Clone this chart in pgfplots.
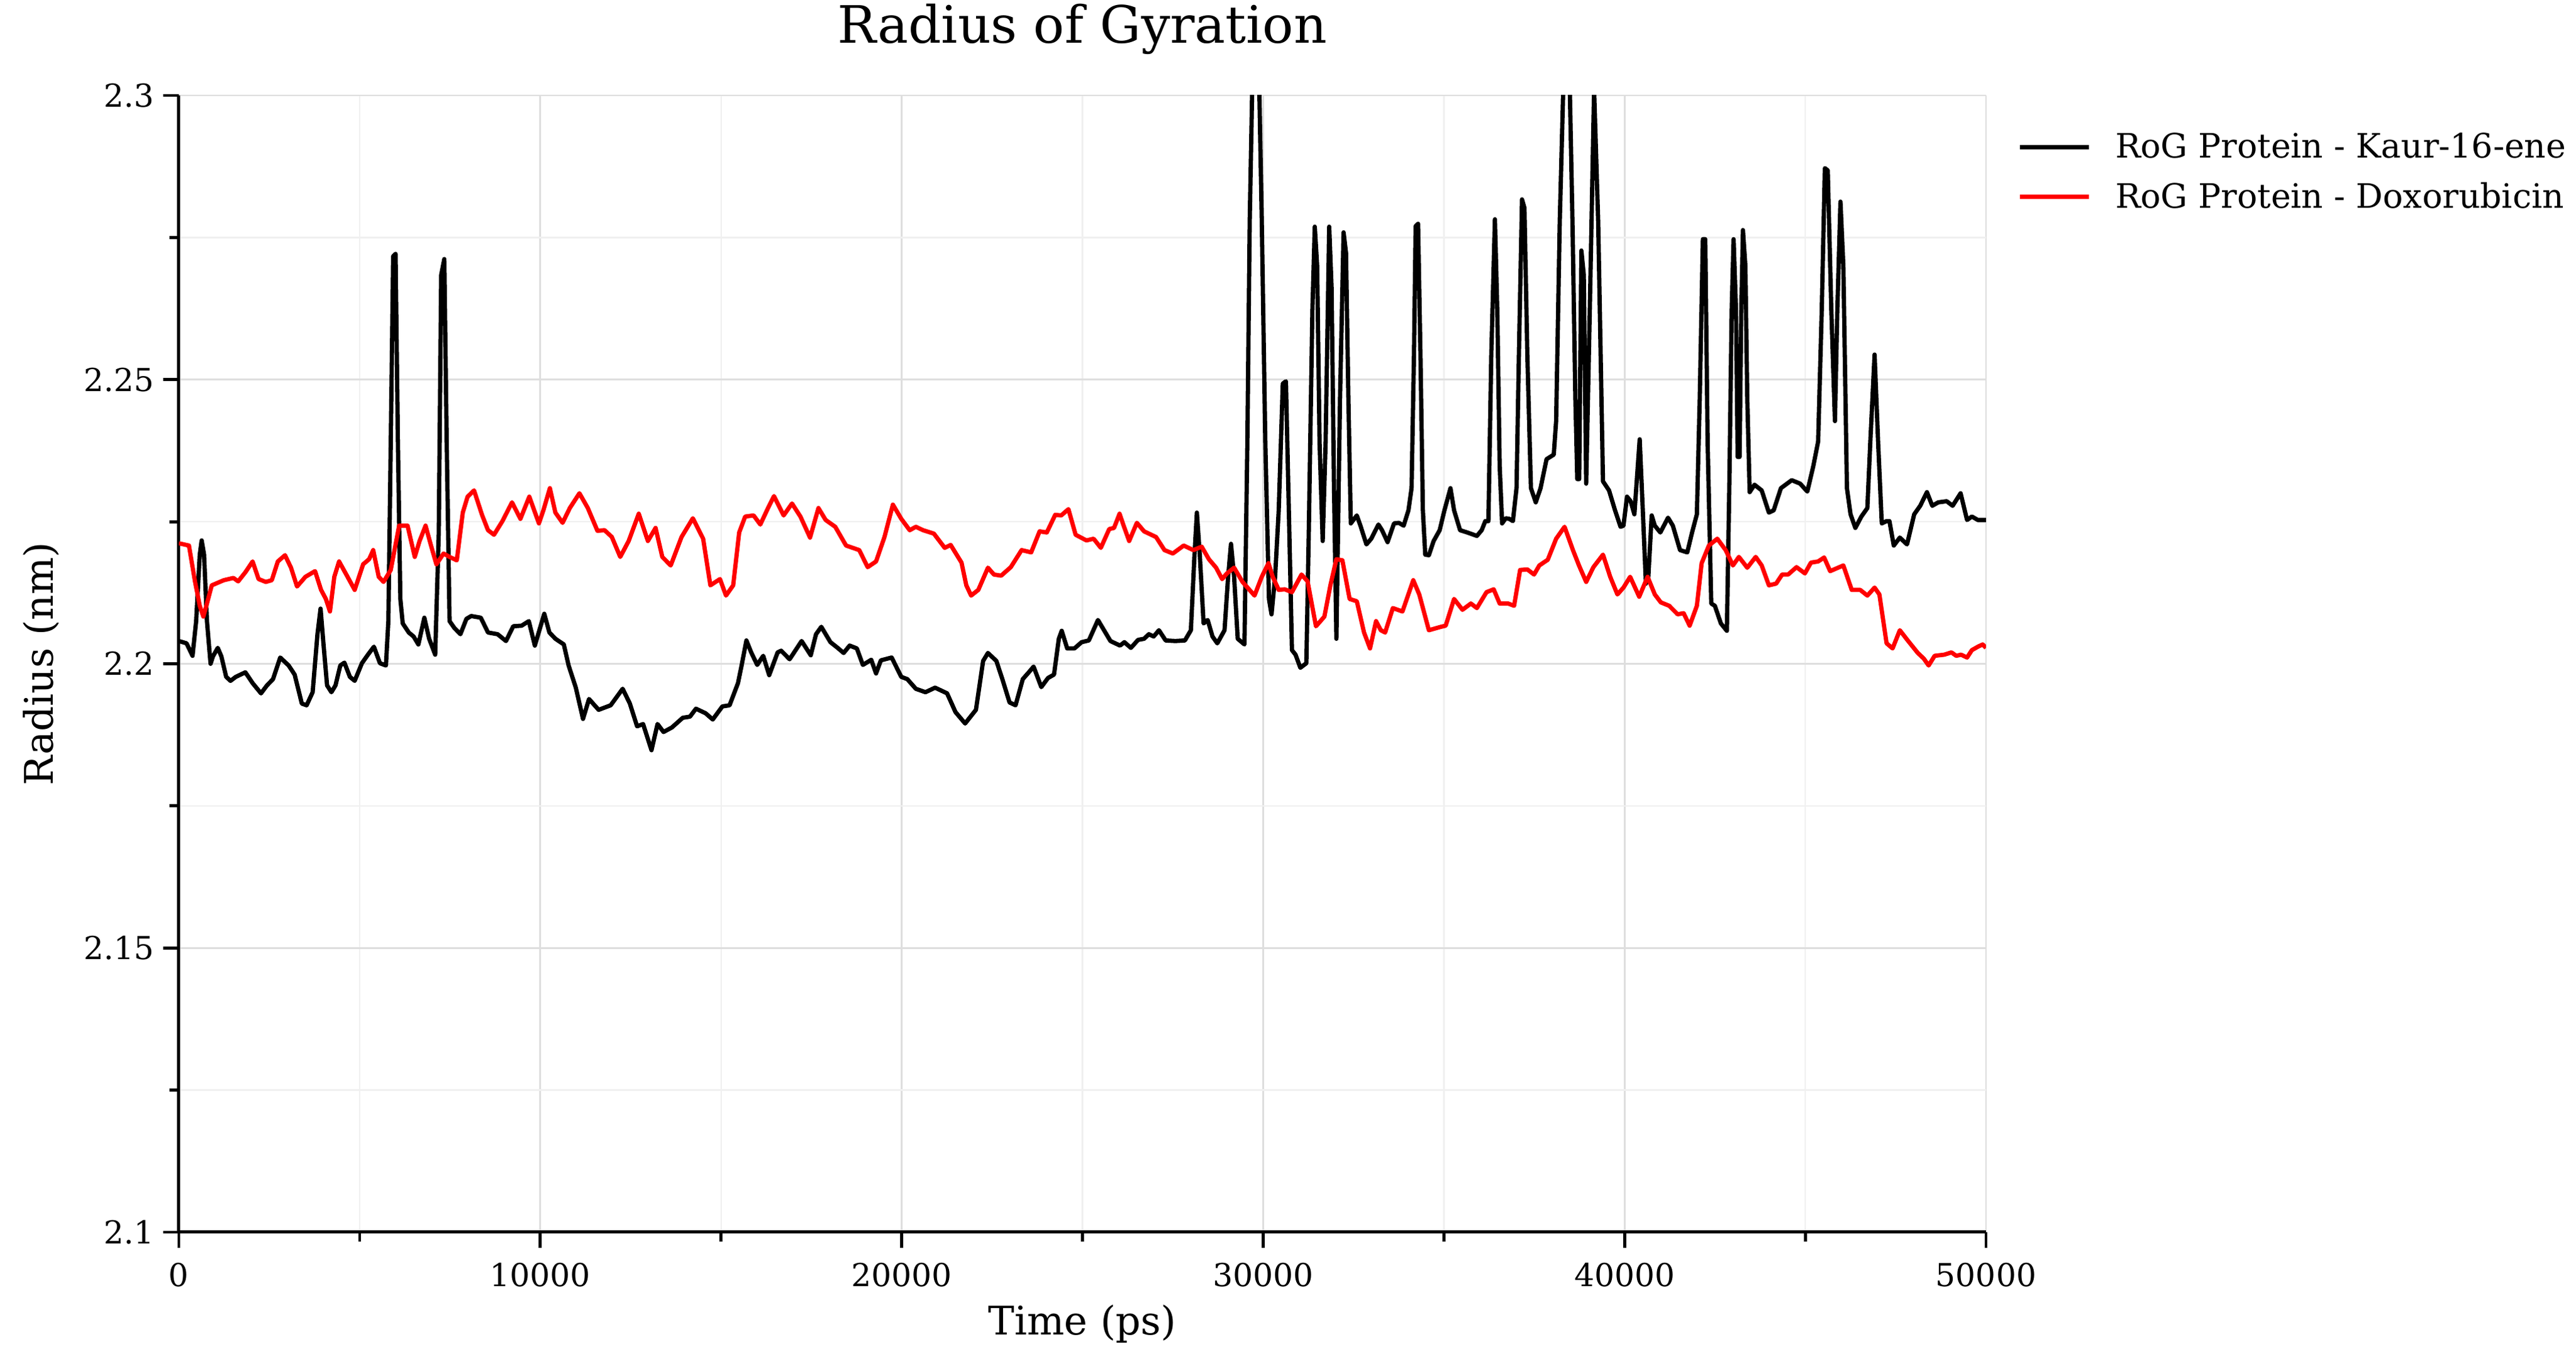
\documentclass[border=0pt]{standalone}
\usepackage{fontspec}
\setmainfont{DejaVu Serif}
\usepackage{pgfplots}
\usepackage{pgfplotstable}
\pgfplotsset{compat=1.18}
\pgfplotstableread{
x y
0 2.2040
212 2.2036
378 2.2014
478 2.2075
578 2.2192
631 2.2217
697 2.2192
777 2.2075
877 2.2000
943 2.2013
1076 2.2028
1176 2.2013
1309 2.1977
1428 2.1970
1575 2.1977
1840 2.1985
2040 2.1966
2272 2.1948
2438 2.1962
2605 2.1973
2804 2.2011
3037 2.1997
3203 2.1981
3402 2.1930
3535 2.1927
3701 2.1950
3834 2.2052
3920 2.2097
3999 2.2036
4100 2.1962
4220 2.1950
4333 2.1962
4466 2.1997
4579 2.2002
4731 2.1977
4864 2.1970
5064 2.2001
5230 2.2016
5396 2.2030
5562 2.2001
5728 2.1997
5795 2.2075
5861 2.2387
5928 2.2717
5994 2.2721
6060 2.2387
6127 2.2114
6193 2.2071
6360 2.2055
6493 2.2048
6626 2.2034
6791 2.2081
6924 2.2044
7091 2.2016
7190 2.2231
7257 2.2684
7343 2.2712
7410 2.2388
7489 2.2075
7622 2.2063
7789 2.2052
7955 2.2079
8088 2.2084
8354 2.2081
8553 2.2055
8819 2.2052
9051 2.2040
9251 2.2066
9483 2.2067
9683 2.2075
9849 2.2032
10110 2.2088
10252 2.2055
10418 2.2044
10651 2.2034
10784 2.1997
10983 2.1958
11182 2.1903
11348 2.1938
11614 2.1919
11947 2.1927
12279 2.1956
12478 2.1930
12678 2.1890
12844 2.1894
13076 2.1848
13243 2.1894
13409 2.1880
13641 2.1888
13941 2.1905
14140 2.1907
14306 2.1921
14572 2.1913
14771 2.1902
15037 2.1925
15236 2.1927
15469 2.1966
15569 2.1997
15702 2.2041
15835 2.2020
16001 2.1998
16167 2.2014
16333 2.1980
16566 2.2020
16665 2.2023
16898 2.2008
17230 2.2040
17483 2.2015
17629 2.2052
17775 2.2065
18028 2.2038
18227 2.2028
18393 2.2019
18559 2.2032
18759 2.2027
18925 2.1998
19157 2.2007
19290 2.1983
19423 2.2006
19722 2.2011
19988 2.1977
20154 2.1973
20391 2.1956
20657 2.1950
20923 2.1958
21255 2.1948
21488 2.1915
21754 2.1895
22053 2.1919
22252 2.2005
22385 2.2019
22618 2.2005
22784 2.1973
22983 2.1932
23149 2.1927
23349 2.1973
23515 2.1985
23648 2.1995
23861 2.1959
24047 2.1975
24213 2.1981
24346 2.2044
24426 2.2058
24578 2.2027
24778 2.2027
24977 2.2038
25176 2.2041
25429 2.2077
25775 2.2040
26040 2.2032
26160 2.2038
26340 2.2028
26539 2.2042
26705 2.2044
26838 2.2052
26971 2.2048
27117 2.2059
27303 2.2041
27569 2.2040
27835 2.2041
28001 2.2059
28101 2.2192
28167 2.2266
28247 2.2192
28353 2.2071
28466 2.2077
28599 2.2048
28732 2.2036
28932 2.2059
29031 2.2153
29111 2.2211
29197 2.2153
29297 2.2044
29483 2.2034
29563 2.2387
29629 2.2780
29709 2.3050
29882 2.3050
29962 2.2780
30061 2.2387
30161 2.2114
30232 2.2087
30331 2.2153
30431 2.2270
30544 2.2493
30630 2.2497
30697 2.2309
30797 2.2024
30896 2.2016
31029 2.1993
31195 2.2001
31262 2.2231
31362 2.2622
31428 2.2769
31494 2.2700
31561 2.2388
31647 2.2216
31727 2.2388
31827 2.2769
31893 2.2661
31960 2.2309
32026 2.2044
32126 2.2466
32225 2.2759
32292 2.2723
32358 2.2466
32425 2.2247
32591 2.2261
32691 2.2243
32857 2.2210
32990 2.2220
33189 2.2245
33289 2.2235
33442 2.2214
33621 2.2247
33754 2.2248
33887 2.2243
34020 2.2270
34106 2.2309
34173 2.2544
34219 2.2770
34286 2.2774
34352 2.2544
34419 2.2270
34485 2.2192
34585 2.2191
34717 2.2216
34884 2.2235
35016 2.2270
35183 2.2309
35283 2.2270
35449 2.2235
35648 2.2231
35914 2.2225
36047 2.2235
36147 2.2251
36233 2.2251
36313 2.2544
36413 2.2782
36479 2.2622
36545 2.2348
36612 2.2247
36712 2.2256
36811 2.2255
36911 2.2251
37011 2.2309
37077 2.2544
37163 2.2817
37230 2.2802
37310 2.2544
37410 2.2309
37543 2.2284
37676 2.2309
37842 2.2360
38041 2.2368
38107 2.2427
38207 2.2778
38320 2.3050
38473 2.3050
38559 2.2778
38639 2.2466
38692 2.2325
38745 2.2325
38805 2.2727
38872 2.2684
38938 2.2317
39038 2.2622
39157 2.3010
39270 2.2778
39403 2.2321
39570 2.2305
39736 2.2270
39889 2.2241
39969 2.2243
40068 2.2294
40168 2.2286
40271 2.2263
40418 2.2395
40504 2.2270
40590 2.2141
40657 2.2153
40750 2.2261
40836 2.2243
40989 2.2231
41202 2.2257
41335 2.2243
41534 2.2200
41734 2.2196
41867 2.2231
42000 2.2263
42079 2.2466
42166 2.2747
42232 2.2747
42298 2.2388
42398 2.2106
42498 2.2102
42664 2.2071
42830 2.2058
42897 2.2309
42963 2.2622
43016 2.2747
43083 2.2622
43129 2.2364
43182 2.2364
43229 2.2622
43275 2.2763
43342 2.2700
43395 2.2466
43461 2.2302
43595 2.2315
43794 2.2305
43993 2.2266
44126 2.2270
44326 2.2309
44625 2.2323
44857 2.2317
45057 2.2303
45223 2.2348
45356 2.2391
45456 2.2622
45542 2.2872
45622 2.2868
45721 2.2622
45821 2.2427
45887 2.2622
45974 2.2813
46054 2.2700
46153 2.2309
46253 2.2263
46386 2.2239
46552 2.2259
46718 2.2274
46798 2.2388
46918 2.2544
47017 2.2388
47117 2.2247
47250 2.2251
47329 2.2251
47449 2.2208
47616 2.2222
47815 2.2210
48014 2.2263
48180 2.2278
48366 2.2302
48513 2.2278
48679 2.2284
48912 2.2286
49077 2.2278
49297 2.2300
49476 2.2253
49609 2.2259
49775 2.2253
50000 2.2253
}\kaur
\pgfplotstableread{
x y
0 2.2212
279 2.2208
445 2.2145
578 2.2102
677 2.2083
777 2.2106
910 2.2138
1242 2.2147
1508 2.2151
1641 2.2145
1840 2.2161
2040 2.2180
2206 2.2149
2405 2.2144
2571 2.2147
2738 2.2180
2937 2.2191
3103 2.2169
3269 2.2136
3502 2.2153
3768 2.2163
3934 2.2130
4067 2.2114
4180 2.2092
4300 2.2153
4432 2.2180
4632 2.2157
4864 2.2130
5097 2.2175
5263 2.2184
5376 2.2200
5529 2.2153
5662 2.2144
5861 2.2165
6094 2.2243
6326 2.2243
6526 2.2188
6659 2.2216
6825 2.2243
6958 2.2212
7124 2.2175
7323 2.2194
7489 2.2188
7689 2.2182
7855 2.2266
7988 2.2294
8167 2.2305
8387 2.2262
8553 2.2235
8719 2.2227
8952 2.2251
9217 2.2284
9450 2.2255
9696 2.2294
9962 2.2247
10086 2.2270
10265 2.2309
10418 2.2266
10617 2.2248
10817 2.2274
11083 2.2300
11315 2.2274
11581 2.2234
11780 2.2235
11980 2.2223
12212 2.2188
12445 2.2216
12724 2.2264
12977 2.2216
13189 2.2239
13375 2.2188
13608 2.2173
13907 2.2223
14220 2.2256
14505 2.2220
14705 2.2138
14971 2.2149
15137 2.2120
15336 2.2138
15502 2.2231
15668 2.2259
15901 2.2261
16087 2.2245
16300 2.2274
16466 2.2295
16732 2.2261
16964 2.2282
17197 2.2259
17463 2.2222
17696 2.2274
17895 2.2253
18161 2.2241
18460 2.2208
18825 2.2200
19058 2.2170
19290 2.2180
19523 2.2223
19756 2.2280
19988 2.2255
20221 2.2235
20391 2.2241
20591 2.2235
20890 2.2229
21189 2.2204
21355 2.2209
21654 2.2178
21787 2.2138
21920 2.2120
22119 2.2130
22385 2.2169
22551 2.2157
22751 2.2155
23017 2.2170
23316 2.2200
23581 2.2196
23814 2.2233
24013 2.2231
24246 2.2262
24412 2.2261
24612 2.2272
24811 2.2227
25110 2.2217
25309 2.2220
25509 2.2204
25741 2.2237
25874 2.2239
26027 2.2264
26140 2.2243
26293 2.2216
26506 2.2248
26705 2.2233
27037 2.2223
27270 2.2200
27502 2.2194
27802 2.2208
28068 2.2200
28300 2.2206
28499 2.2184
28699 2.2169
28865 2.2149
28998 2.2159
29197 2.2169
29430 2.2144
29762 2.2120
29962 2.2153
30148 2.2177
30265 2.2153
30431 2.2130
30597 2.2131
30797 2.2126
31062 2.2157
31229 2.2145
31461 2.2066
31694 2.2083
31860 2.2138
32026 2.2184
32192 2.2182
32392 2.2114
32591 2.2110
32791 2.2055
32957 2.2027
33123 2.2075
33256 2.2059
33375 2.2055
33588 2.2098
33854 2.2092
34153 2.2147
34319 2.2122
34585 2.2059
34917 2.2065
35050 2.2067
35283 2.2114
35515 2.2095
35748 2.2106
35914 2.2098
36180 2.2126
36379 2.2131
36545 2.2106
36778 2.2106
36944 2.2102
37110 2.2165
37310 2.2166
37496 2.2157
37642 2.2173
37875 2.2183
38107 2.2220
38340 2.2241
38572 2.2200
38739 2.2173
38938 2.2144
39138 2.2170
39403 2.2192
39603 2.2153
39802 2.2122
39969 2.2134
40154 2.2153
40404 2.2118
40637 2.2153
40836 2.2122
41003 2.2108
41235 2.2102
41468 2.2087
41634 2.2089
41800 2.2067
42000 2.2102
42132 2.2177
42332 2.2208
42565 2.2220
42797 2.2200
42997 2.2173
43163 2.2188
43395 2.2169
43628 2.2188
43794 2.2173
43993 2.2138
44193 2.2141
44359 2.2157
44525 2.2157
44758 2.2170
44990 2.2159
45157 2.2178
45356 2.2180
45522 2.2187
45688 2.2163
46054 2.2173
46286 2.2130
46519 2.2130
46718 2.2120
46918 2.2134
47051 2.2122
47250 2.2036
47416 2.2027
47616 2.2059
47848 2.2040
48114 2.2019
48280 2.2009
48413 2.1997
48579 2.2014
48845 2.2016
49044 2.2020
49177 2.2014
49310 2.2016
49476 2.2011
49609 2.2024
49775 2.2030
49908 2.2034
50000 2.2028
}\doxo
\begin{document}
\begin{tikzpicture}
\useasboundingbox (0pt,0pt) rectangle (1026pt,543.25pt);
\begin{axis}[
  at={(71.25pt,52.5pt)}, anchor=south west,
  scale only axis, width=719.75pt, height=452.75pt,
  xmin=0, xmax=50000, ymin=2.1, ymax=2.3,
  axis x line*=bottom, axis y line*=left,
  axis line style={line width=1.25pt, -},
  xtick={0,10000,20000,30000,40000,50000},
  ytick={2.1,2.15,2.2,2.25,2.3},
  minor xtick={5000,15000,25000,35000,45000},
  minor ytick={2.125,2.175,2.225,2.275},
  tick align=outside, major tick length=6.2pt, minor tick length=3.8pt,
  every tick/.style={line width=1.2pt, black},
  grid=both,
  major grid style={draw=black!13, line width=0.7pt},
  minor grid style={draw=black!6, line width=0.6pt},
  scaled ticks=false,
  /pgf/number format/assume math mode=true,
  xticklabel style={/pgf/number format/1000 sep={}, yshift=-2.5pt},
  yticklabel style={/pgf/number format/fixed, /pgf/number format/precision=3},
  tick label style={font=\fontsize{12.6}{14}\selectfont},
  title={Radius of Gyration},
  every axis title/.style={at={(axis description cs:0.5,1.058)}, anchor=center, font=\fontsize{20.5}{24}\selectfont},
  xlabel={Time (ps)},
  xlabel style={at={(axis description cs:0.5,-0.0806)}, anchor=center, font=\fontsize{15.7}{18}\selectfont},
  ylabel={Radius (nm)},
  ylabel style={at={(axis description cs:-0.0764,0.5)}, anchor=center, font=\fontsize{15.7}{18}\selectfont},
  legend style={draw=none, fill=none, at={(axis description cs:1.0174,0.972)}, anchor=north west,
    inner sep=0pt, font=\fontsize{13.4}{16}\selectfont, row sep=4.3pt,
    nodes={inner xsep=9.6pt}},
  legend cell align=left,
  legend image code/.code={\draw[#1] (0pt,0pt) -- (27.5pt,0pt);},
]
\addplot[black, line width=1.7pt, line join=round] table[x=x,y=y] {\kaur};
\addlegendentry{RoG Protein - Kaur-16-ene}
\addplot[red, line width=1.7pt, line join=round] table[x=x,y=y] {\doxo};
\addlegendentry{RoG Protein - Doxorubicin}
\end{axis}
\end{tikzpicture}
\end{document}
